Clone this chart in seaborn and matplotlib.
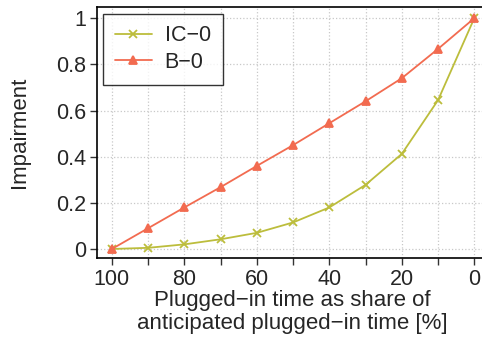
import numpy as np
import pandas as pd
import seaborn as sns
import matplotlib.pyplot as plt
from matplotlib.ticker import MultipleLocator

# Values
share = [100, 90, 80, 70, 60, 50, 40, 30, 20, 10, 0]
ic0 = [0.0, 0.005, 0.02, 0.042, 0.07, 0.115, 0.18, 0.278, 0.412, 0.645, 1.0]
b0 = [0.0, 0.09, 0.18, 0.268, 0.36, 0.45, 0.545, 0.64, 0.74, 0.867, 1.0]
labels = ['IC\u22120', 'B\u22120']
colors = ['#bcbd3c', '#f26b50']
markers = ['x', '^']

sns.set_style('white')
plt.rcParams['font.family'] = ['Liberation Sans', 'DejaVu Sans']

fig = plt.figure(figsize=(4.82, 3.39), dpi=100)
ax = fig.add_axes([0.201, 0.239, 0.81, 0.74])

for vals, lab, col, mk in zip([ic0, b0], labels, colors, markers):
    sns.lineplot(x=share, y=vals, label=lab, color=col, marker=mk, ax=ax,
                 linewidth=1.3, markersize=6, markeredgewidth=1.3,
                 markeredgecolor=col)

ax.set_xlim(104.14, -3.59)
ax.set_ylim(-0.039, 1.048)
ax.xaxis.set_major_locator(MultipleLocator(20))
ax.xaxis.set_minor_locator(MultipleLocator(10))
ax.yaxis.set_major_locator(MultipleLocator(0.2))
ax.yaxis.set_major_formatter(plt.FuncFormatter(lambda v, p: f'{v:g}'))

ax.grid(True, which='both', axis='x', linestyle=':', color='#c8c8c8', linewidth=0.9)
ax.grid(True, which='major', axis='y', linestyle=':', color='#c8c8c8', linewidth=0.9)

ax.tick_params(axis='both', which='both', direction='out', length=5, width=1,
               color='#333333', labelsize=15.5, bottom=True, left=True, pad=3)
for s in ax.spines.values():
    s.set_color('black')
    s.set_linewidth(1.2)

ax.set_xlabel('Plugged\u2212in time as share of\nanticipated plugged\u2212in time [%]',
              fontsize=16, labelpad=0, linespacing=1.15)
ax.set_ylabel('Impairment', fontsize=16)
ax.yaxis.set_label_coords(-0.172, 0.5)

leg = ax.legend(loc='upper left', fontsize=15.5, frameon=True, fancybox=False,
                edgecolor='black', handlelength=1.7, borderpad=0.55,
                labelspacing=0.25, handletextpad=0.6, borderaxespad=0.3)
leg.get_frame().set_linewidth(1.0)

fig.savefig('out.png', dpi=100)
